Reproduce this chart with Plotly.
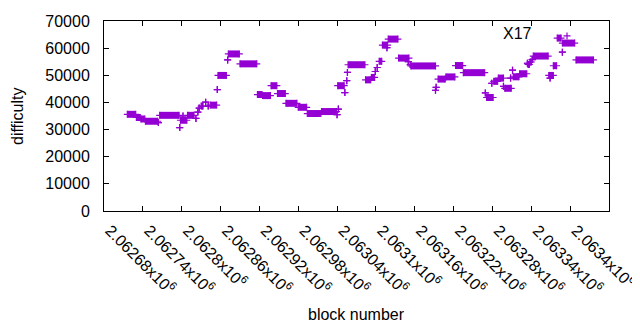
import plotly.graph_objects as go

# Runs of (nearly) constant difficulty: first block, last block, difficulty
run_start = [2062716, 2062730, 2062737, 2062744, 2062764, 2062766, 2062797, 2062798, 2062802, 2062809,
             2062822, 2062825, 2062827, 2062830, 2062837, 2062841, 2062844, 2062855, 2062856, 2062871,
             2062872, 2062890, 2062917, 2062925, 2062938, 2062948, 2062961, 2062980, 2062994, 2063016,
             2063040, 2063042, 2063041, 2063052, 2063055, 2063056, 2063057, 2063084, 2063093, 2063099,
             2063102, 2063105, 2063110, 2063117, 2063119, 2063135, 2063150, 2063153, 2063154, 2063193,
             2063192, 2063196, 2063208, 2063223, 2063235, 2063269, 2063271, 2063279, 2063282, 2063289,
             2063297, 2063299, 2063308, 2063311, 2063312, 2063322, 2063334, 2063335, 2063338, 2063341,
             2063343, 2063367, 2063369, 2063374, 2063380, 2063388, 2063388, 2063409]
run_end = [2062729, 2062736, 2062743, 2062763, 2062764, 2062796, 2062797, 2062808, 2062802, 2062819,
           2062822, 2062825, 2062827, 2062833, 2062837, 2062841, 2062854, 2062855, 2062869, 2062871,
           2062889, 2062916, 2062924, 2062937, 2062947, 2062960, 2062978, 2062993, 2063015, 2063039,
           2063040, 2063042, 2063051, 2063052, 2063055, 2063056, 2063083, 2063092, 2063098, 2063099,
           2063102, 2063109, 2063118, 2063117, 2063134, 2063151, 2063150, 2063153, 2063192, 2063193,
           2063192, 2063207, 2063222, 2063234, 2063268, 2063269, 2063281, 2063279, 2063288, 2063297,
           2063297, 2063309, 2063308, 2063311, 2063321, 2063333, 2063334, 2063337, 2063340, 2063342,
           2063366, 2063374, 2063369, 2063379, 2063386, 2063388, 2063407, 2063436]
run_difficulty = [35620, 34450, 33900, 33070, 32560, 35250, 30730, 33430, 35000, 35250,
                  34090, 36460, 37920, 38650, 40100, 38650, 39010, 44730, 49950, 55670,
                  57860, 54210, 42910, 42510, 46160, 43280, 39670, 38210, 35910, 36640,
                  35470, 37550, 46160, 43640, 48010, 51040, 53890, 48310, 49220, 51400,
                  52860, 55160, 61140, 60160, 63330, 56330, 55050, 53960, 53450, 45570,
                  44480, 48600, 49400, 53590, 50970, 43500, 41820, 47030, 47760, 48970,
                  45940, 45210, 48970, 51880, 49440, 50570, 54430, 54000, 54900, 55800,
                  57090, 49950, 48970, 53520, 63700, 58520, 61870, 55670]

x_tick_values = [2062680, 2062740, 2062800, 2062860, 2062920, 2062980, 2063040,
                 2063100, 2063160, 2063220, 2063280, 2063340, 2063400, 2063460]
x_tick_labels = ["2.06268x10<sup>6</sup>", "2.06274x10<sup>6</sup>", "2.0628x10<sup>6</sup>",
                 "2.06286x10<sup>6</sup>", "2.06292x10<sup>6</sup>", "2.06298x10<sup>6</sup>",
                 "2.06304x10<sup>6</sup>", "2.0631x10<sup>6</sup>", "2.06316x10<sup>6</sup>",
                 "2.06322x10<sup>6</sup>", "2.06328x10<sup>6</sup>", "2.06334x10<sup>6</sup>",
                 "2.0634x10<sup>6</sup>", "2.06346x10<sup>6</sup>"]
y_tick_values = [0, 10000, 20000, 30000, 40000, 50000, 60000, 70000]
y_tick_labels = ["0", "10000", "20000", "30000", "40000", "50000", "60000", "70000"]

PURPLE = "#9400D3"
FONT = "Liberation Sans, Arial, sans-serif"

# thick segments: overlapping '+' marks of consecutive blocks
seg_x, seg_y = [], []
for s, e, v in zip(run_start, run_end, run_difficulty):
    seg_x += [s, e, None]
    seg_y += [v, v, None]

fig = go.Figure()
fig.add_trace(go.Scatter(x=seg_x, y=seg_y, mode="lines",
                         line=dict(color=PURPLE, width=7),
                         showlegend=False, hoverinfo="skip"))
fig.add_trace(go.Scatter(x=run_start + run_end, y=run_difficulty + run_difficulty,
                         mode="markers", name=" ",
                         marker=dict(symbol="cross-thin", size=5, color=PURPLE,
                                     line=dict(color=PURPLE, width=1.2)),
                         showlegend=True))

fig.add_annotation(text="X17", xref="paper", yref="paper",
                   x=(534 - 104) / 505, y=(211 - 32) / 192,
                   xanchor="right", yanchor="middle", showarrow=False,
                   font=dict(family=FONT, size=16, color="black"))
fig.add_annotation(text="difficulty", xref="paper", yref="paper",
                   x=(17 - 104) / 505, y=0.5, textangle=-90,
                   xanchor="center", yanchor="middle", showarrow=False,
                   font=dict(family=FONT, size=16, color="black"))
fig.add_annotation(text="block number", xref="paper", yref="paper",
                   x=0.5, y=(211 - 316) / 192,
                   xanchor="center", yanchor="middle", showarrow=False,
                   font=dict(family=FONT, size=16, color="black"))

axis_common = dict(showline=True, linecolor="black", linewidth=1, mirror="ticks",
                   ticks="inside", ticklen=5, tickcolor="black", tickwidth=1,
                   showgrid=False, zeroline=False, automargin=False,
                   tickfont=dict(family=FONT, size=16, color="black"))

fig.update_xaxes(range=[2062680, 2063460], tickmode="array",
                 tickvals=x_tick_values, ticktext=x_tick_labels, tickangle=45,
                 ticklabelshift=6, ticklabelstandoff=3,
                 **axis_common)
fig.update_yaxes(range=[0, 70000], tickmode="array",
                 tickvals=y_tick_values, ticktext=y_tick_labels,
                 ticklabelstandoff=10, **axis_common)

# the page body adds an 8px margin: figure spans (8,8)-(640,330)
fig.update_layout(width=632, height=322,
                  margin=dict(l=96, r=31, t=11, b=119),
                  paper_bgcolor="white", plot_bgcolor="white",
                  showlegend=True,
                  legend=dict(x=(547 - 104) / 505, y=(211 - 17) / 192,
                              xanchor="left", yanchor="top",
                              bgcolor="rgba(0,0,0,0)", borderwidth=0,
                              font=dict(family=FONT, size=16, color="black"),
                              itemwidth=30))

fig.write_html("out.html")
